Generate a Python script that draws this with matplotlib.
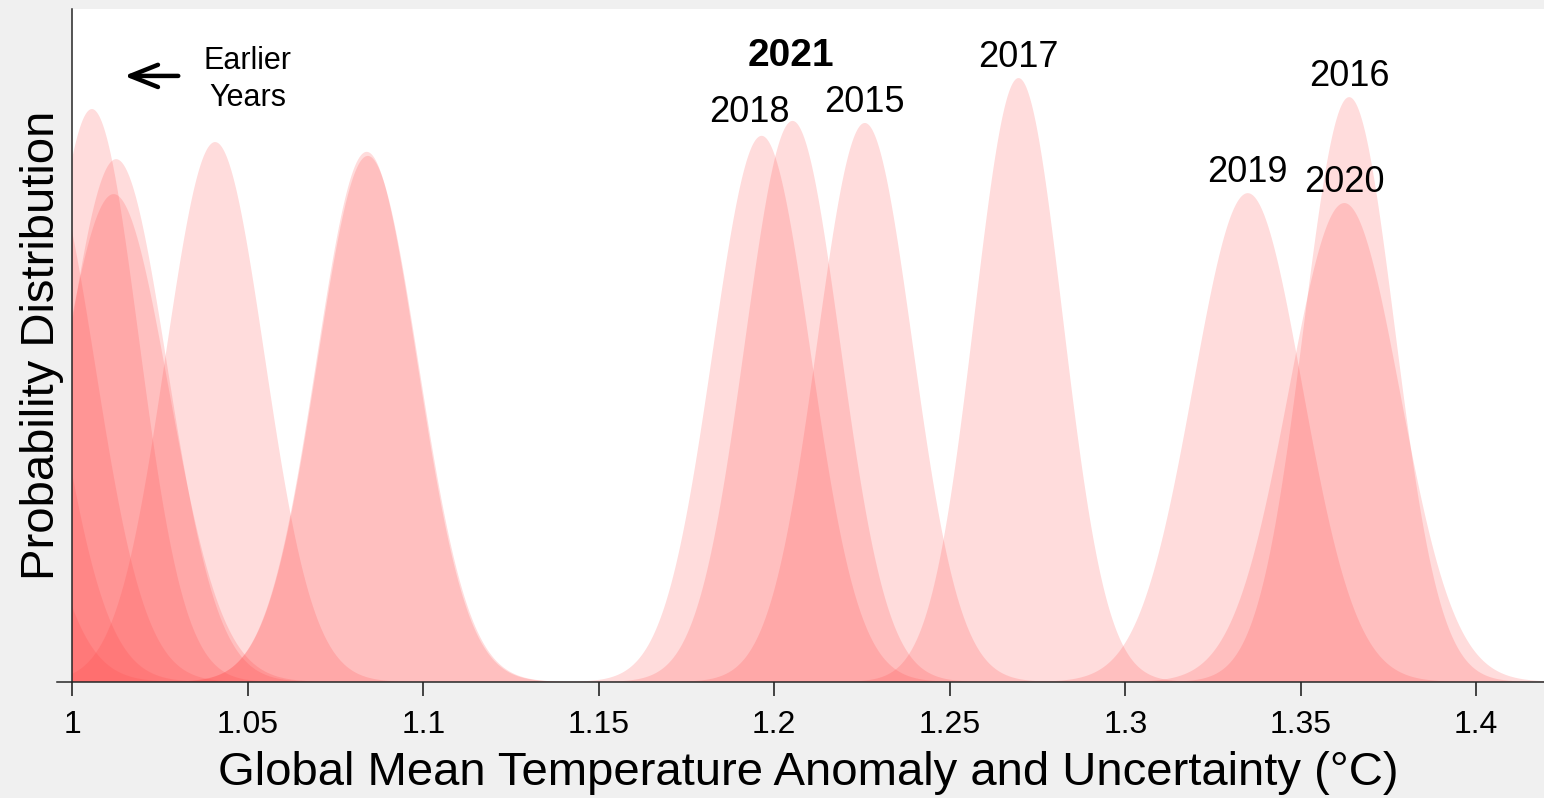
import numpy as np
import matplotlib.pyplot as plt

plt.rcParams['font.family'] = ['Liberation Sans', 'DejaVu Sans']

# labelled years: mean anomaly and 1-sigma uncertainty (deg C)
years = ["2015", "2016", "2017", "2018", "2019", "2020", "2021"]
means = [1.2258, 1.3638, 1.2696, 1.1964, 1.3349, 1.3624, 1.2052]
sigmas = [0.01358, 0.01298, 0.01257, 0.01390, 0.01553, 0.01585, 0.01353]

# earlier (unlabelled) years
early_means = [1.0056, 1.0125, 1.0118, 1.0407, 1.0839, 1.0842, 0.992, 0.980, 0.970]
early_sigmas = [0.01325, 0.01452, 0.01556, 0.01406, 0.01432, 0.01443, 0.0145, 0.0150, 0.0155]

xticks = [1, 1.05, 1.1, 1.15, 1.2, 1.25, 1.3, 1.35, 1.4]
xticklabels = ["1", "1.05", "1.1", "1.15", "1.2", "1.25", "1.3", "1.35", "1.4"]

# label offsets in points (dx, dy)
label_offsets = {"2018": (-9, 17), "2021": (-1, 47)}


def gauss(x, m, s):
    return np.exp(-0.5 * ((x - m) / s) ** 2) / (s * np.sqrt(2 * np.pi))


fig = plt.figure(figsize=(15.44, 7.98), dpi=100, facecolor='#F0F0F0')
ax = fig.add_axes([0.0468, 0.1454, 0.9532, 0.8434])
ax.set_facecolor('white')

x = np.linspace(0.9, 1.45, 3000)
fill_color = '#FF4646'

for m, s in zip(early_means, early_sigmas):
    ax.fill_between(x, 0, gauss(x, m, s), color=fill_color, alpha=0.19, lw=0)

for yr, m, s in zip(years, means, sigmas):
    ax.fill_between(x, 0, gauss(x, m, s), color=fill_color, alpha=0.19, lw=0)
    peak = gauss(m, m, s)
    dx, dy = label_offsets.get(yr, (0, 15))
    bold = yr == "2021"
    ax.annotate(yr, (m, peak), xytext=(dx, dy), textcoords='offset points',
                ha='center', va='center', fontsize=28 if bold else 26,
                fontweight='bold' if bold else 'normal')

# "Earlier Years" note
ax.annotate('', xy=(1.0148, 31.85), xytext=(1.0302, 31.85),
            arrowprops=dict(arrowstyle='->,head_length=1.0,head_width=0.4',
                            mutation_scale=20, lw=3.2, color='black',
                            shrinkA=0, shrinkB=0))
ax.text(1.0500, 31.68, "Earlier\nYears", ha='center', va='center',
        fontsize=22, linespacing=1.3)

ax.set_xlim(1.0, 1.4193)
ax.set_ylim(0, 35.37)

ax.set_xticks(xticks)
ax.set_xticklabels(xticklabels)
ax.set_yticks([])
ax.tick_params(axis='x', direction='out', length=10, width=1.2, color='#262626',
               labelsize=23, pad=10)

for side in ['top', 'right']:
    ax.spines[side].set_visible(False)
ax.spines['left'].set_color('#262626')
ax.spines['left'].set_linewidth(1.1)
ax.spines['bottom'].set_color('#262626')
ax.spines['bottom'].set_linewidth(1.1)
# bottom axis line sticks out a little to the left of the y axis
ax.plot([0.9957, 1.0], [0, 0], color='#262626', lw=1.1, clip_on=False)

ax.set_xlabel("Global Mean Temperature Anomaly and Uncertainty (°C)", fontsize=34,
              labelpad=8)
ax.set_ylabel("Probability Distribution", fontsize=34, labelpad=6)

plt.savefig("out.png", dpi=100, facecolor=fig.get_facecolor())
